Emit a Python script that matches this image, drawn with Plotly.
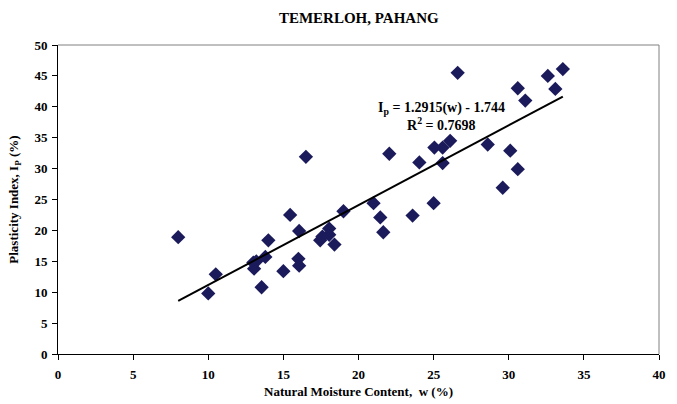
import plotly.graph_objects as go

moisture = [8.0, 10.0, 10.5, 13.0, 13.05, 13.2, 13.55, 13.8, 14.0, 15.0, 15.45, 16.05,
            16.0, 16.05, 16.5, 17.45, 17.6, 18.05, 18.05, 18.4, 19.0, 21.0, 21.45, 21.65,
            22.05, 23.6, 24.05, 25.05, 25.0, 25.6, 25.6, 26.1, 26.6, 28.6, 29.6, 30.1,
            30.6, 30.6, 31.1, 32.6, 33.1, 33.6]
plasticity = [18.9, 9.8, 12.9, 14.8, 13.8, 15.0, 10.8, 15.7, 18.4, 13.4, 22.5, 19.9,
              15.4, 14.3, 31.9, 18.4, 19.0, 20.3, 19.3, 17.7, 23.1, 24.4, 22.1, 19.7,
              32.4, 22.4, 31.0, 33.4, 24.4, 33.4, 30.9, 34.5, 45.5, 33.9, 26.9, 32.9,
              43.0, 29.9, 41.0, 45.0, 42.9, 46.1]
slope, intercept = 1.2915, -1.744
fit_x = [8.0, 33.6]
fit_y = [slope * v + intercept for v in fit_x]

font = "Liberation Serif"
tickfont = dict(family=font, size=13, color="black", weight="bold")
fig = go.Figure()
fig.add_trace(go.Scatter(x=moisture, y=plasticity, mode="markers",
                         marker=dict(symbol="diamond", size=11, color="#1b1b5c"),
                         showlegend=False))
fig.add_trace(go.Scatter(x=fit_x, y=fit_y, mode="lines",
                         line=dict(color="black", width=2), showlegend=False))

fig.update_layout(
    width=677, height=404,
    margin=dict(l=58, r=18, t=45, b=50, autoexpand=False),
    paper_bgcolor="white", plot_bgcolor="white",
    font=dict(family=font, size=12, color="black"),
    title=dict(text="TEMERLOH, PAHANG", x=0.53, xanchor="center", y=0.955, yanchor="middle",
               font=dict(family=font, size=15, color="black", weight="bold")),
    xaxis=dict(range=[0, 40], dtick=5, tick0=0, showgrid=False, zeroline=False,
               showline=True, linecolor="black", linewidth=1, ticks="outside", ticklen=5,
               tickcolor="black", tickfont=tickfont, ticklabelstandoff=3, automargin=False,
               title=dict(text="Natural Moisture Content,  w (%)",
                          font=dict(family=font, size=13, weight="bold"), standoff=6)),
    yaxis=dict(range=[0, 50], dtick=5, tick0=0, showgrid=False, zeroline=False,
               showline=True, linecolor="black", linewidth=1, ticks="outside", ticklen=5,
               tickcolor="black", tickfont=tickfont, ticklabelstandoff=2, automargin=False,
               title=dict(text="Plasticity Index, I<sub>P</sub> (%)",
                          font=dict(family=font, size=13, weight="bold"), standoff=12)),
    shapes=[
        dict(type="line", xref="x domain", yref="y domain", x0=0, x1=1, y0=1, y1=1,
             line=dict(color="#808080", width=1)),
        dict(type="line", xref="x domain", yref="y domain", x0=1, x1=1, y0=0, y1=1,
             line=dict(color="#808080", width=1)),
    ],
    annotations=[
        dict(x=25.5, y=39.8, xref="x", yref="y", showarrow=False,
             text="I<sub>p</sub> = 1.2915(w) - 1.744",
             font=dict(family=font, size=14, color="black", weight="bold")),
        dict(x=25.5, y=37.2, xref="x", yref="y", showarrow=False,
             text="R<sup>2</sup> = 0.7698",
             font=dict(family=font, size=14, color="black", weight="bold")),
    ],
)
fig.write_html("out.html")
